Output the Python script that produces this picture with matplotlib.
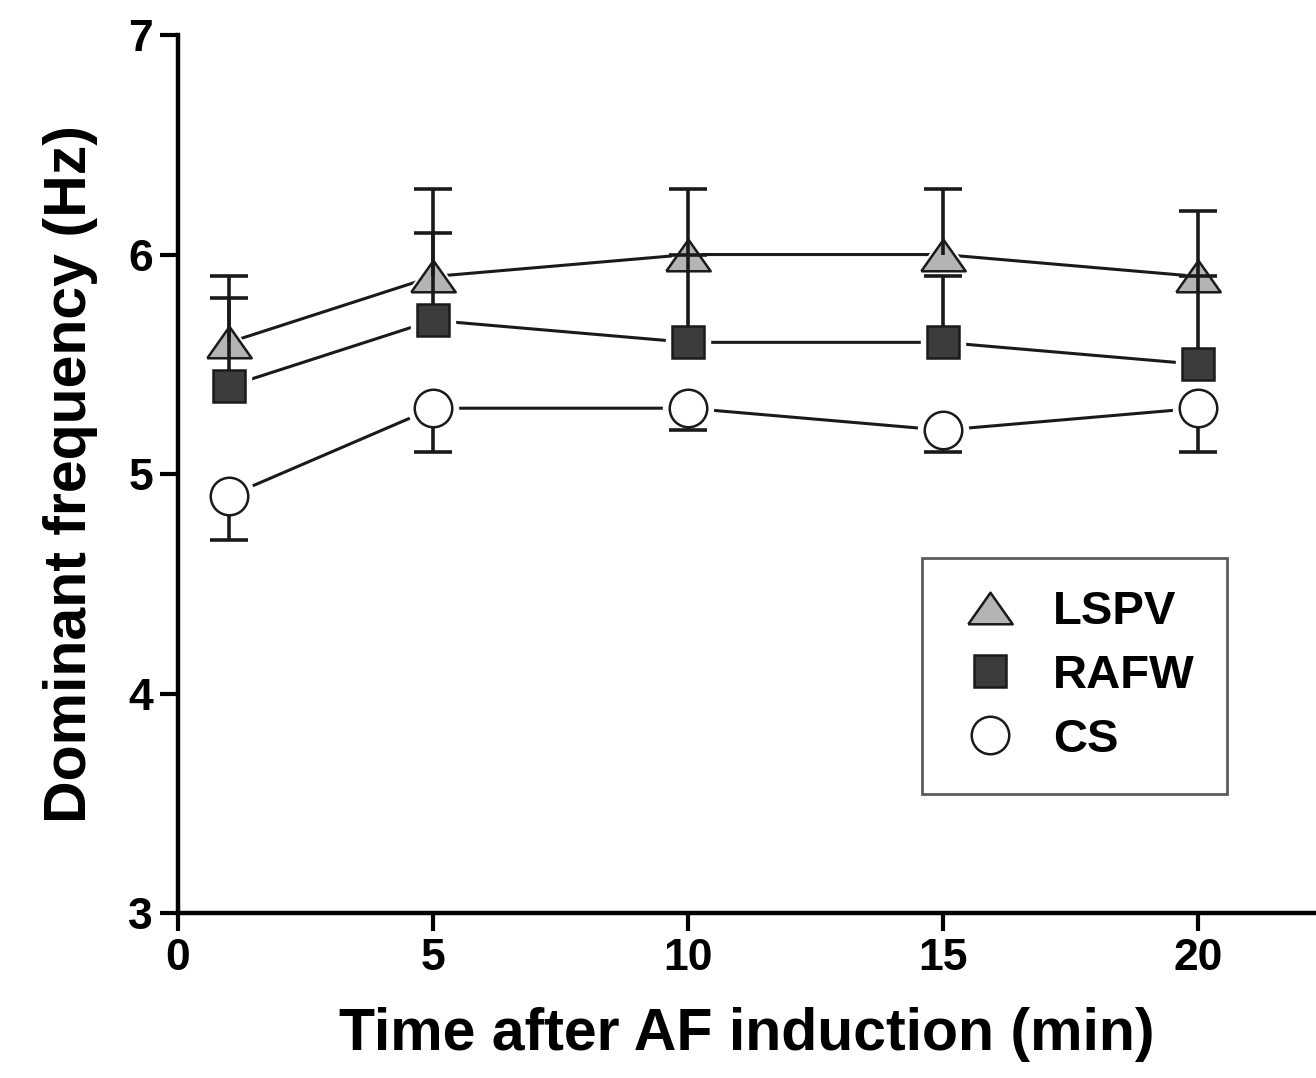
import numpy as np
import matplotlib.pyplot as plt
from matplotlib.lines import Line2D

plt.rcParams['font.family'] = ['Liberation Sans', 'DejaVu Sans']
plt.rcParams['font.weight'] = 'bold'

# ------------------------------------------------------------
# data
# ------------------------------------------------------------
minutes = [1, 5, 10, 15, 20]

lspv     = [5.6, 5.9, 6.0, 6.0, 5.9]
lspv_err = [0.3, 0.4, 0.3, 0.3, 0.3]     # upper only

rafw     = [5.4, 5.7, 5.6, 5.6, 5.5]
rafw_err = [0.4, 0.4, 0.4, 0.3, 0.4]     # upper only

cs       = [4.9, 5.3, 5.3, 5.2, 5.3]
cs_err   = [0.2, 0.2, 0.1, 0.1, 0.2]     # lower only

labels = ["LSPV", "RAFW", "CS"]

# wide, flat triangle like the original
tri = [(-1.0, -0.71), (1.0, -0.71), (0.0, 0.71), (-1.0, -0.71)]

fig = plt.figure(figsize=(13.16, 10.78), dpi=100)
ax = fig.add_axes([0.1353, 0.153, 1 - 0.1353, 0.9675 - 0.153])

EC = '#1a1a1a'
LW = 2.2      # connecting lines
ELW = 2.6     # error bars
CAP = 27      # cap width (pt)

# values, err, sign, marker, size, face, marker z, errorbar z
series = [
    (lspv, lspv_err, +1, tri, 32, '#b4b4b4', 4, 5),
    (rafw, rafw_err, +1, 's', 23, '#3c3c3c', 6, 5),
    (cs,   cs_err,   -1, 'o', 27, 'white',   4, 3),
]

for vals, err, sgn, mk, ms, fc, zm, ze in series:
    vals = np.asarray(vals)
    ends = vals + sgn * np.asarray(err)
    # connecting line, with white halo around the markers for the gap
    ax.plot(minutes, vals, '-', color=EC, lw=LW, zorder=1)
    ax.plot(minutes, vals, ls='none', marker=mk, ms=ms + 9, mfc='white',
            mec='white', zorder=2)
    # one-sided error bars
    ax.vlines(minutes, vals, ends, color=EC, lw=ELW, zorder=ze)
    ax.plot(minutes, ends, ls='none', marker='_', ms=CAP, mew=ELW,
            color=EC, zorder=ze)
    ax.plot(minutes, vals, ls='none', marker=mk, ms=ms, mfc=fc, mec=EC,
            mew=1.8, zorder=zm)

ax.set_xlim(0, 22.31)
ax.set_ylim(3, 7)
ax.set_xticks([0, 5, 10, 15, 20])
ax.set_yticks([3, 4, 5, 6, 7])

for s in ['top', 'right']:
    ax.spines[s].set_visible(False)
for s in ['left', 'bottom']:
    ax.spines[s].set_linewidth(3.2)
    ax.spines[s].set_color('black')

ax.tick_params(axis='both', direction='out', length=13, width=3,
               labelsize=32, pad=5)
for t in ax.get_xticklabels() + ax.get_yticklabels():
    t.set_fontweight('bold')

ax.set_xlabel("Time after AF induction (min)", fontsize=42.5,
              fontweight='bold', labelpad=20)
ax.set_ylabel("Dominant frequency (Hz)", fontsize=42.5,
              fontweight='bold', labelpad=22)

handles = [
    Line2D([], [], ls='none', marker=tri, ms=32, mfc='#b4b4b4', mec=EC, mew=1.8),
    Line2D([], [], ls='none', marker='s', ms=23, mfc='#3c3c3c', mec=EC, mew=1.8),
    Line2D([], [], ls='none', marker='o', ms=27, mfc='white', mec=EC, mew=1.8),
]
leg = ax.legend(handles, labels, loc='upper left',
                bbox_to_anchor=((922 - 178) / 1138, 1 - (558 - 35) / 878),
                frameon=True, fancybox=False,
                prop={'weight': 'bold', 'size': 34},
                borderpad=0.68, labelspacing=0.42, handletextpad=0.6,
                borderaxespad=0, handlelength=1.5)
leg.get_frame().set_edgecolor('#333333')
leg.get_frame().set_linewidth(2)

fig.savefig("out.png", dpi=100)
